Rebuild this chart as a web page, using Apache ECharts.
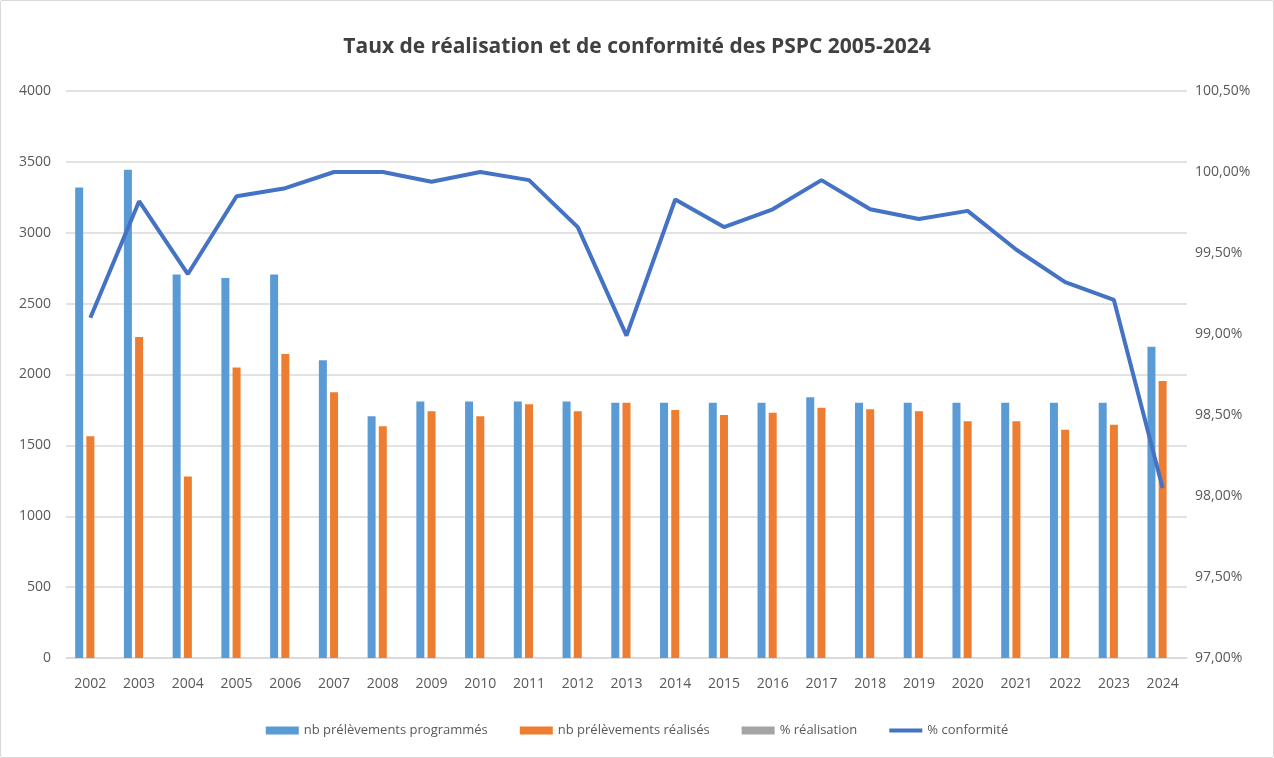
<!DOCTYPE html>
<html><head><meta charset="utf-8">
<script src="https://cdn.jsdelivr.net/npm/echarts@6/dist/echarts.min.js"></script>
<style>html,body{margin:0;padding:0;background:#fff;}#c{width:1272px;height:756px;border:1px solid #d9d9d9;border-radius:2px;}</style>
</head><body><div id="c"></div>
<script>
const years = ['2002','2003','2004','2005','2006','2007','2008','2009','2010','2011','2012','2013','2014','2015','2016','2017','2018','2019','2020','2021','2022','2023','2024'];
const programmes = [3320,3445,2705,2680,2705,2100,1705,1810,1810,1810,1810,1800,1800,1800,1800,1840,1800,1800,1800,1800,1800,1800,2195];
const realises = [1565,2265,1280,2050,2145,1875,1635,1740,1705,1790,1740,1800,1750,1715,1730,1765,1755,1740,1670,1670,1610,1645,1955];
const realisation = years.map(() => null);
const conformite = [99.10,99.82,99.37,99.85,99.90,100.00,100.00,99.94,100.00,99.95,99.66,98.99,99.83,99.66,99.77,99.95,99.77,99.71,99.76,99.52,99.32,99.21,98.05];
const leftTicks = {min:0,max:4000,interval:500};
const rightTicks = {min:97,max:100.5,interval:0.5};

const chart = echarts.init(document.getElementById('c'));
const txt = '#595959';
const ff = 'Open Sans, sans-serif';
chart.setOption({
  animation:false,
  title:{text:'Taux de réalisation et de conformité des PSPC 2005-2024',left:'center',top:31,
    textStyle:{fontFamily:ff,fontWeight:'bold',fontSize:21,color:'#404040'}},
  legend:{bottom:15,left:'center',itemWidth:33,itemHeight:8,itemGap:32,
    textStyle:{color:txt,fontSize:13,fontFamily:ff},
    data:[{name:'nb prélèvements programmés',icon:'rect'},{name:'nb prélèvements réalisés',icon:'rect'},{name:'% réalisation',icon:'rect'},
      {name:'% conformité',icon:'path://M0,0h33v4h-33z'}]},
  grid:{left:65,right:86,top:90,bottom:99},
  xAxis:{type:'category',data:years,axisTick:{show:false},
    axisLine:{lineStyle:{color:'#d9d9d9',width:1.5}},
    axisLabel:{color:txt,fontSize:14,margin:19,fontFamily:ff}},
  yAxis:[
    {type:'value',min:leftTicks.min,max:leftTicks.max,interval:leftTicks.interval,
      splitLine:{lineStyle:{color:'#d9d9d9',width:1.5}},axisLine:{show:false},axisTick:{show:false},
      axisLabel:{color:txt,fontSize:14,margin:15,fontFamily:ff,formatter:v=>String(v)}},
    {type:'value',min:rightTicks.min,max:rightTicks.max,interval:rightTicks.interval,position:'right',
      splitLine:{show:false},axisLine:{show:false},axisTick:{show:false},
      axisLabel:{color:txt,fontSize:14,margin:8,fontFamily:ff,
        formatter:v=>v.toFixed(2).replace('.',',')+'%'}}
  ],
  series:[
    {name:'nb prélèvements programmés',type:'bar',data:programmes,barWidth:8,barGap:'40%',itemStyle:{color:'#5B9BD5'}},
    {name:'nb prélèvements réalisés',type:'bar',data:realises,barWidth:8,barGap:'40%',itemStyle:{color:'#ED7D31'}},
    {name:'% réalisation',type:'bar',data:realisation,barWidth:8,barGap:'40%',itemStyle:{color:'#A5A5A5'}},
    {name:'% conformité',type:'line',yAxisIndex:1,data:conformite,symbol:'none',
      lineStyle:{color:'#4472C4',width:4},itemStyle:{color:'#4472C4'}}
  ]
});
</script></body></html>
